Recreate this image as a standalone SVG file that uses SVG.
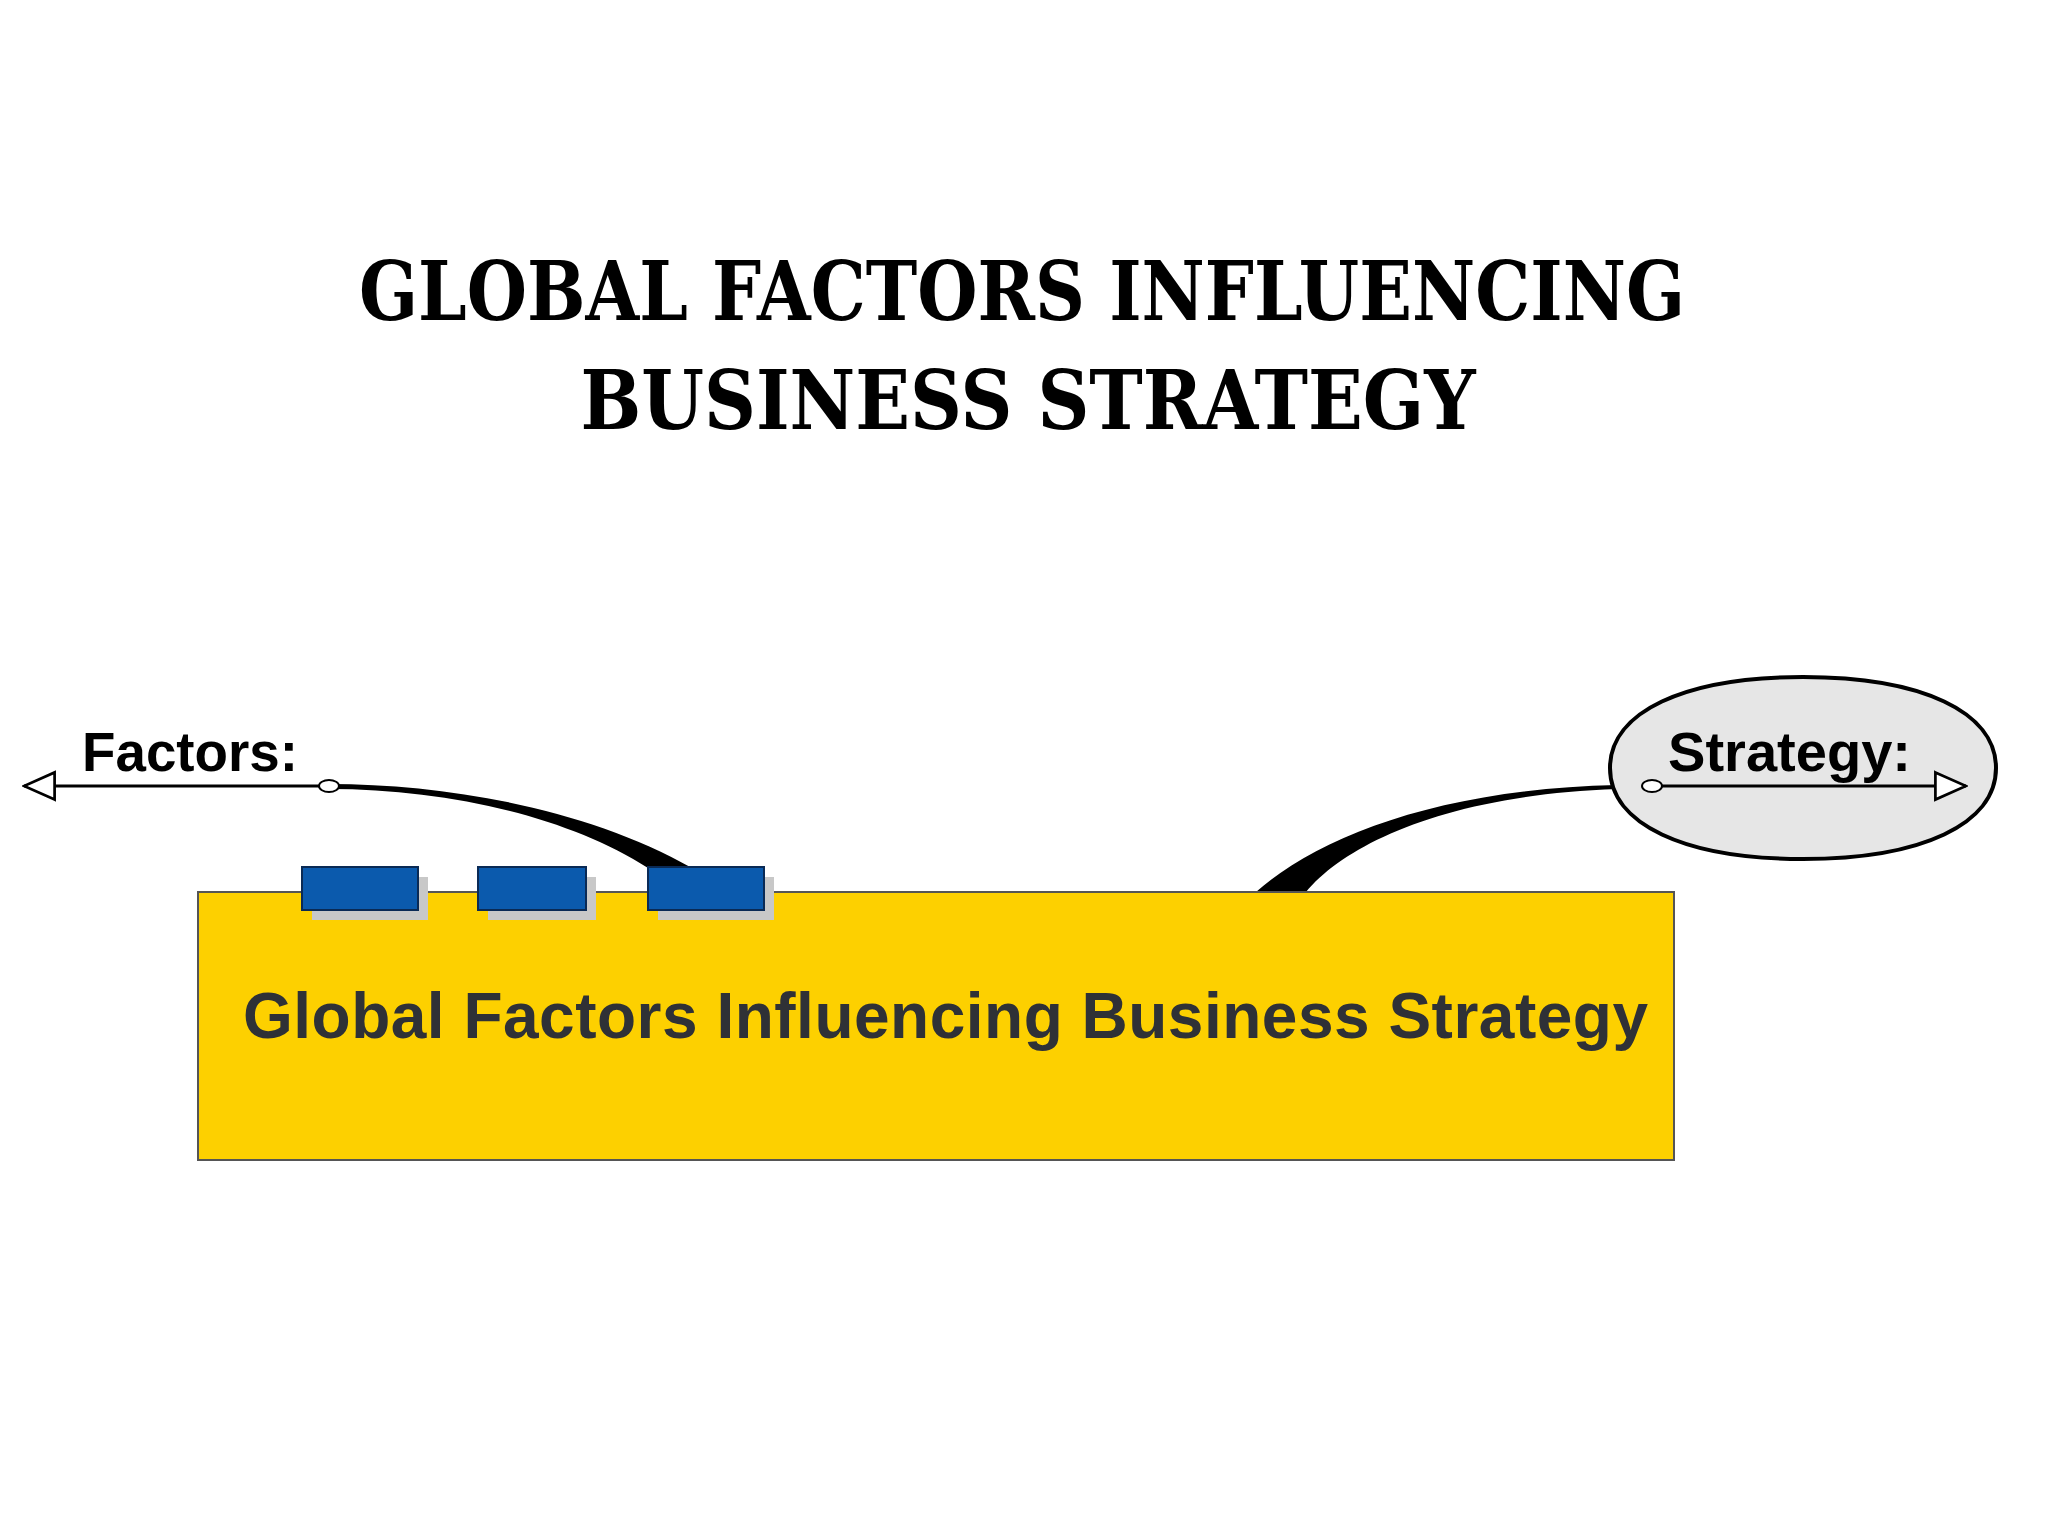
<svg xmlns="http://www.w3.org/2000/svg" width="2048" height="1536" viewBox="0 0 2048 1536">
  <defs>
    <style>
      .title { font-family: "DejaVu Serif", "Liberation Serif", serif; font-weight: bold; font-size: 82px; fill: #000; }
      .lbl { font-family: "Liberation Sans", Arial, sans-serif; font-weight: bold; font-size: 55px; fill: #000; }
      .main { font-family: "Liberation Sans", Arial, sans-serif; font-weight: bold; font-size: 64px; fill: #2f3136; }
      .tab { fill: #0b5aad; stroke: #0a2a55; stroke-width: 2; }
      .tabshadow { fill: #c8c8c8; }
      .wire { stroke: #000; stroke-width: 3; fill: none; }
      .wedge { fill: #000; }
      .dot { fill: #fff; stroke: #000; stroke-width: 2; }
    </style>
    <marker id="openArrow" viewBox="0 0 20 20" refX="19" refY="10" markerWidth="34" markerHeight="34" markerUnits="userSpaceOnUse" orient="auto">
      <path d="M1 2 L19 10 L1 18 Z" fill="#fff" stroke="#000" stroke-width="1.6"/>
    </marker>
  </defs>
  <rect width="2048" height="1536" fill="#fff"/>

  <g id="title">
    <text class="title" x="1022" y="320" text-anchor="middle" textLength="1326" lengthAdjust="spacingAndGlyphs">GLOBAL FACTORS INFLUENCING</text>
    <text class="title" x="1028" y="429" text-anchor="middle" textLength="895" lengthAdjust="spacingAndGlyphs">BUSINESS STRATEGY</text>
  </g>

  <g id="connectors">
    <path class="wedge" d="M329 784 C450 784 590 810 692 868 L648 868 C570 818 450 789 329 789 Z"/>
    <path class="wedge" d="M1256 892 C1320 836 1440 789 1617 785 L1617 789 C1445 795 1345 845 1306 892 Z"/>
    <line class="wire" x1="329" y1="786" x2="24" y2="786" marker-end="url(#openArrow)"/>
  </g>

  <g id="node-factors">
    <text class="lbl" x="82" y="771" textLength="216" lengthAdjust="spacingAndGlyphs">Factors:</text>
    <ellipse class="dot" cx="329" cy="786" rx="10" ry="6"/>
  </g>

  <g id="node-main">
    <rect x="198" y="892" width="1476" height="268" fill="#fdd000" stroke="#555" stroke-width="2"/>
    <text class="main" x="243" y="1038" textLength="1405" lengthAdjust="spacing">Global Factors Influencing Business Strategy</text>
  </g>

  <g id="node-tab1">
    <rect class="tabshadow" x="312" y="877" width="116" height="43"/>
    <rect class="tab" x="302" y="867" width="116" height="43"/>
  </g>
  <g id="node-tab2">
    <rect class="tabshadow" x="488" y="877" width="108" height="43"/>
    <rect class="tab" x="478" y="867" width="108" height="43"/>
  </g>
  <g id="node-tab3">
    <rect class="tabshadow" x="658" y="877" width="116" height="43"/>
    <rect class="tab" x="648" y="867" width="116" height="43"/>
  </g>

  <g id="node-strategy">
    <path d="M1610 768 C1610 712 1684 677 1803 677 C1922 677 1996 712 1996 768 C1996 824 1922 859 1803 859 C1684 859 1610 824 1610 768 Z" fill="#e6e6e6" stroke="#000" stroke-width="4"/>
    <text class="lbl" x="1668" y="771" textLength="243" lengthAdjust="spacingAndGlyphs">Strategy:</text>
    <line class="wire" x1="1652" y1="786" x2="1966" y2="786" marker-end="url(#openArrow)"/>
    <ellipse class="dot" cx="1652" cy="786" rx="10" ry="6"/>
  </g>
</svg>
